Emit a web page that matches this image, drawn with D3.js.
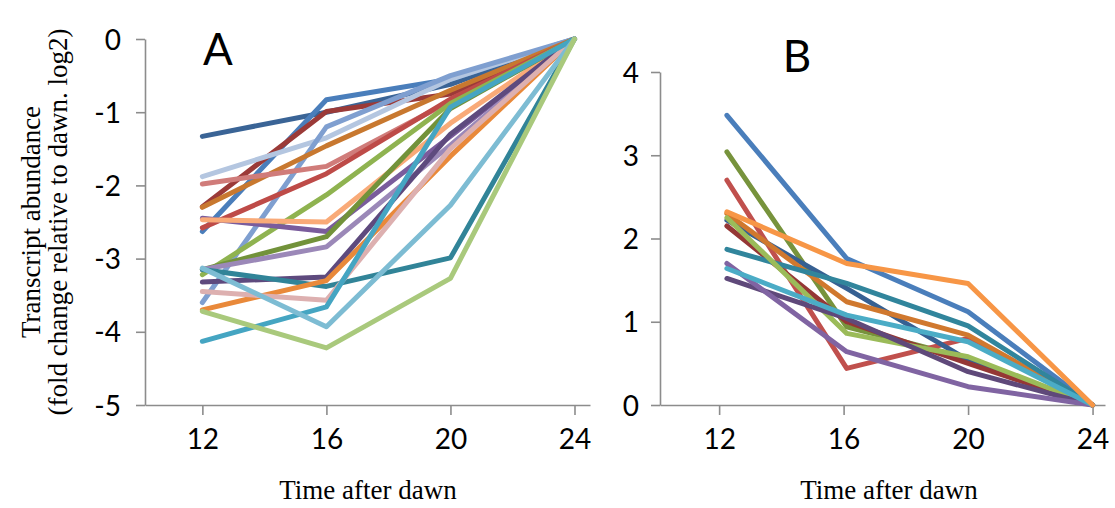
<!DOCTYPE html>
<html><head><meta charset="utf-8">
<script src="https://cdn.jsdelivr.net/npm/d3@7"></script>
<style>body{margin:0;background:#fff}</style>
</head><body>
<svg id="c" width="1115" height="508"></svg>
<script>
// ---------- DATA ----------
const timesA = [12, 16, 20, 24];
const timesB = [12.25, 16.1, 20, 24];
const yTicksA = [0, -1, -2, -3, -4, -5];
const yTicksB = [0, 1, 2, 3, 4];
const xTicks = [12, 16, 20, 24];

const seriesAColors = ["#3A6496","#4A7EBB","#9B3A38","#B4C6E0","#7F9FD0","#C8782F","#D07C7A","#BE4B48","#8FB350","#7A5C9C","#F9AA78","#72923A","#9B88B8","#5E4A7E","#318498","#E9893A","#DDB0B0","#45A5C2","#7DBCD3","#A9C97C"];
const seriesAValues = [
  [-1.33, -1.00, -0.62, 0],
  [-2.63, -0.83, -0.55, 0],
  [-2.29, -0.99, -0.75, 0],
  [-1.88, -1.35, -0.55, 0],
  [-3.60, -1.20, -0.50, 0],
  [-2.30, -1.46, -0.70, 0],
  [-1.98, -1.74, -0.85, 0],
  [-2.58, -1.84, -0.82, 0],
  [-3.22, -2.13, -0.88, 0],
  [-2.45, -2.63, -1.33, 0],
  [-2.47, -2.50, -1.15, 0],
  [-3.15, -2.70, -0.95, 0],
  [-3.15, -2.84, -1.45, 0],
  [-3.32, -3.25, -1.30, 0],
  [-3.15, -3.38, -2.99, 0],
  [-3.70, -3.30, -1.60, 0],
  [-3.45, -3.57, -1.50, 0],
  [-4.13, -3.66, -0.93, 0],
  [-3.13, -3.93, -2.27, 0],
  [-3.72, -4.22, -3.27, 0]
];

const seriesBColors = ["#4A7EBB","#77933C","#C0504D","#366092","#D0782E","#953735","#31859C","#9BBB59","#5F497A","#8064A2","#4BACC6","#F79646"];
const seriesBValues = [
  [3.48, 1.76, 1.12, 0],
  [3.04, 0.94, 0.56, 0],
  [2.70, 0.44, 0.80, 0],
  [2.22, 1.40, 0.54, 0],
  [2.30, 1.24, 0.84, 0],
  [2.15, 1.00, 0.50, 0],
  [1.87, 1.46, 0.95, 0],
  [2.25, 0.86, 0.58, 0],
  [1.52, 1.04, 0.40, 0],
  [1.70, 0.64, 0.22, 0],
  [1.64, 1.08, 0.76, 0],
  [2.32, 1.70, 1.46, 0]
];

// ---------- DRAW ----------
const svg = d3.select("#c");
const axisColor = "#8C8C8C";
const tickFont = "Lato, 'Open Sans', sans-serif";
const serif = "'Liberation Serif', 'Times New Roman', serif";
const fmt = d => String(d); // plain hyphen-minus like the reference

function panel(opt) {
  const x = d3.scaleLinear().domain(opt.xDomain).range(opt.xRange);
  const y = d3.scaleLinear().domain(opt.yDomain).range(opt.yRange);
  const g = svg.append("g");

  const ya = g.append("g").attr("transform", `translate(${opt.xRange[0]},0)`)
    .call(d3.axisLeft(y).tickValues(opt.yTicks).tickSize(9).tickSizeOuter(0).tickPadding(opt.yPad).tickFormat(fmt));
  const xa = g.append("g").attr("transform", `translate(0,${opt.yRange[0]})`)
    .call(d3.axisBottom(x).tickValues(xTicks).tickSize(10).tickSizeOuter(0).tickPadding(14).tickFormat(fmt));
  [ya, xa].forEach(a => {
    a.select(".domain").attr("stroke", axisColor).attr("stroke-width", 1.6);
    a.selectAll(".tick line").attr("stroke", axisColor).attr("stroke-width", 1.6);
    a.selectAll(".tick text").attr("fill", "#000").style("font-family", tickFont).style("font-size", "28px");
  });
  ya.selectAll(".tick text").attr("dy", "0.36em");

  const line = d3.line().x((d, i) => x(opt.times[i])).y(d => y(d));
  g.append("g").selectAll("path").data(opt.values).join("path")
    .attr("d", d => line(d))
    .attr("fill", "none")
    .attr("stroke", (d, i) => opt.colors[i])
    .attr("stroke-width", 5)
    .attr("stroke-linejoin", "round")
    .attr("stroke-linecap", "round");

  g.append("text").attr("x", opt.letterPos[0]).attr("y", opt.letterPos[1])
    .text(opt.letter).style("font-family", tickFont).style("font-size", "44px").attr("text-anchor", "middle");

  g.append("text").attr("x", opt.titleX).attr("y", 499)
    .text("Time after dawn").style("font-family", serif).style("font-size", "27px").attr("text-anchor", "middle");
  return {x, y};
}

panel({xDomain:[10.15, 24.5], xRange:[145, 590], yDomain:[-5, 0], yRange:[405, 39], yPad:15,
  yTicks: yTicksA, times: timesA, values: seriesAValues, colors: seriesAColors, letter:"A", letterPos:[218, 65], titleX:368});
panel({xDomain:[10.1, 24.4], xRange:[660, 1105], yDomain:[0, 4], yRange:[405, 72], yPad:12,
  yTicks: yTicksB, times: timesB, values: seriesBValues, colors: seriesBColors, letter:"B", letterPos:[797, 72], titleX:889});

// y axis title
const yt = svg.append("text").attr("transform", "translate(0,222) rotate(-90)")
  .style("font-family", serif).style("font-size", "27px").attr("text-anchor", "middle");
yt.append("tspan").attr("x", 0).attr("y", 40).text("Transcript abundance");
yt.append("tspan").attr("x", 0).attr("y", 67).text("(fold change relative to dawn. log2)");
</script>
</body></html>
